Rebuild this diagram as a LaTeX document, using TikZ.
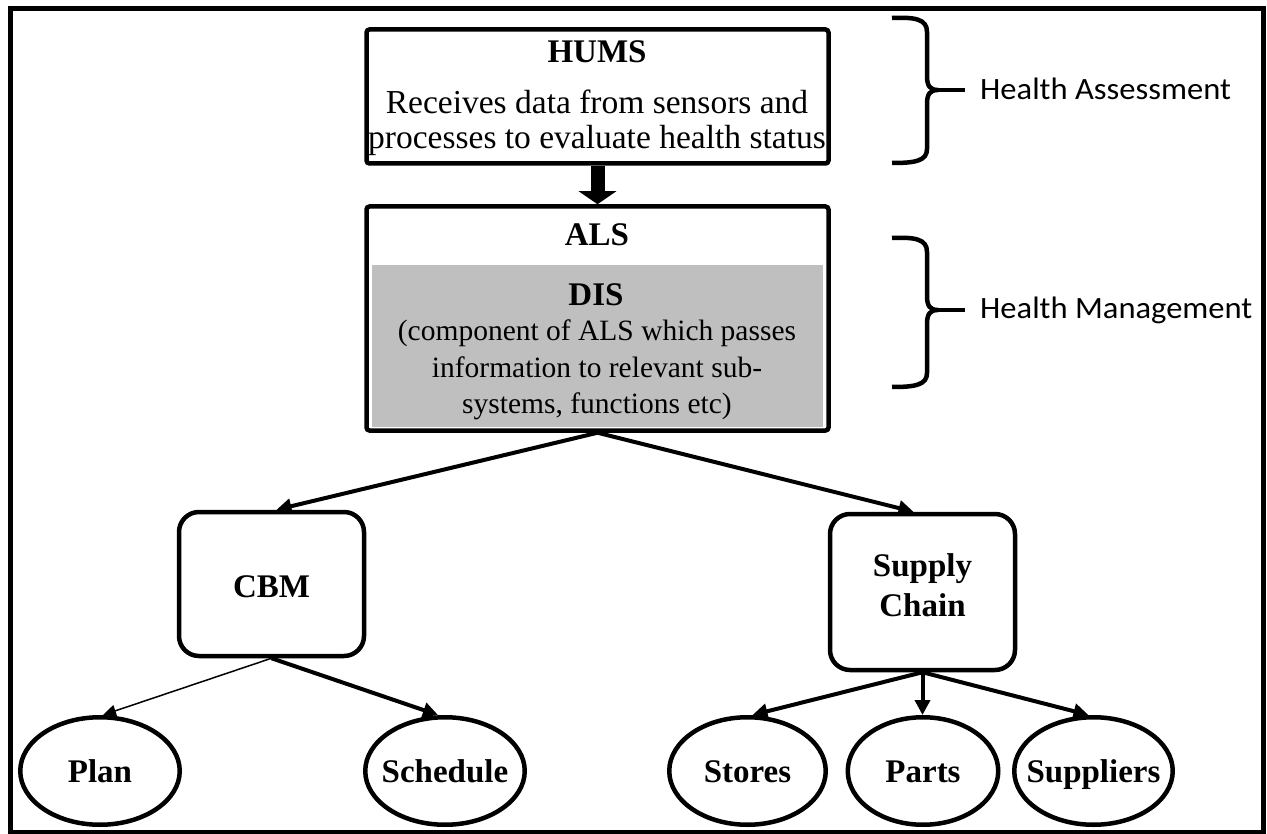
\documentclass[tikz,border=0pt]{standalone}
\usepackage{fontspec}
\setmainfont{Liberation Serif}
\newfontfamily\sidefont{Carlito}[FakeStretch=1.05]
\usetikzlibrary{arrows.meta,calc,shapes.geometric}
\definecolor{disgray}{HTML}{BFBFBF}
\begin{document}
\begin{tikzpicture}[x=1pt,y=-1pt,
  framebox/.style={draw, line width=4.5pt, rounded corners=3pt, inner sep=0pt},
  roundbox/.style={draw, line width=4.5pt, rounded corners=20pt, inner sep=0pt,
    minimum width=185pt},
  oval/.style={draw, ellipse, line width=4.5pt, inner sep=0pt, minimum height=107.5pt,
    text height=23pt, text depth=0pt, font=\fontsize{33}{38}\selectfont\bfseries},
  titletext/.style={inner sep=0pt, align=center, font=\fontsize{33}{40}\selectfont\bfseries},
  bodytext/.style={inner sep=0pt, align=center, font=\fontsize{33.5}{35}\selectfont},
  sidetext/.style={inner sep=0pt, anchor=base west, font=\sidefont\fontsize{31}{36}\selectfont},
  bracket/.style={line width=4.5pt},
  conn/.style={line width=4pt, -{Triangle[length=15pt, width=15pt]}},
  thinconn/.style={line width=1.5pt, -{Triangle[length=13pt, width=12pt]}}]

\useasboundingbox (0,0) rectangle (1267,834);

% outer frame
\draw[line width=4.5pt] (10.5,8.5) rectangle (1263.5,832);

% HUMS block
\node[framebox, minimum width=462pt, minimum height=134pt] (hums) at (597.5,96.5) {};
\node[titletext] (humstitle) at (597,52) {HUMS};
\node[bodytext] (humstext) at (597,123) {Receives data from sensors and\\processes to evaluate health status};

% ALS block with the DIS panel
\node[framebox, minimum width=462pt, minimum height=224pt] (als) at (597.5,318.5) {};
\node[fill=disgray, inner sep=0pt, minimum width=451pt, minimum height=162pt] (dis) at (597.5,346) {};
\node[titletext] (alstitle) at (597,235) {ALS};
\node[titletext] (distitle) at (596,295) {DIS};
\node[bodytext, font=\fontsize{29.5}{36.5}\selectfont] (distext) at (597,370) {(component of ALS which passes\\information to relevant sub-\\systems, functions etc)};

% heavy arrow from HUMS to ALS
\draw[line width=14pt, -{Triangle[length=13pt, width=37pt]}] (hums.south) -- (als.north);

% second level
\node[roundbox, minimum height=144pt] (cbm) at (271.5,584) {};
\node[titletext] (cbmtext) at (271.5,587) {CBM};
\node[roundbox, minimum height=156pt] (supply) at (922.5,592) {};
\node[titletext] (supplytext) at (922.5,585) {Supply\\Chain};

% leaves
\node[oval, minimum width=159.5pt] (plan) at (100,771) {\makebox[0pt]{Plan}};
\node[oval, minimum width=159.5pt] (schedule) at (445,771) {\makebox[0pt]{Schedule}};
\node[oval, minimum width=156.5pt] (stores) at (747.5,771) {\makebox[0pt]{Stores}};
\node[oval, minimum width=150.5pt] (parts) at (923,771) {\makebox[0pt]{Parts}};
\node[oval, minimum width=158.5pt] (suppliers) at (1093.5,771) {\makebox[0pt]{Suppliers}};

% connectors
\draw[conn] (als.south) -- ($(cbm.north)+(5,0)$);
\draw[conn] (als.south) -- ($(supply.north)+(-9,0)$);
\draw[thinconn] (cbm.south) -- ($(plan.north)+(3,0)$);
\draw[conn] (cbm.south) -- ($(schedule.north)+(-7,0)$);
\draw[conn] (supply.south) -- ($(stores.north)+(5,0)$);
\draw[conn] (supply.south) -- (supply.south |- parts.north);
\draw[conn] (supply.south) -- ($(suppliers.north)+(-5,0)$);

% braces and their labels
\draw[bracket] (892,18) .. controls (915,17) and (927,19) .. (927,32) -- (927,76)
  .. controls (927,86) and (930,90) .. (938,90)
  .. controls (930,90) and (927,94) .. (927,104) -- (927,149)
  .. controls (927,161) and (915,163) .. (892,163);
\coordinate (assesstip) at (938,90);
\node[sidetext] (assess) at (980,99.5) {Health Assessment};
\draw[bracket] (assesstip) -- (965,90);

\draw[bracket] (892,238) .. controls (915,237) and (927,239) .. (927,252) -- (927,296)
  .. controls (927,306) and (930,310) .. (938,310)
  .. controls (930,310) and (927,314) .. (927,324) -- (927,373)
  .. controls (927,385) and (915,387) .. (892,387);
\coordinate (managetip) at (938,310);
\node[sidetext] (manage) at (980,318.5) {Health Management};
\draw[bracket] (managetip) -- (965,310);

\end{tikzpicture}
\end{document}
